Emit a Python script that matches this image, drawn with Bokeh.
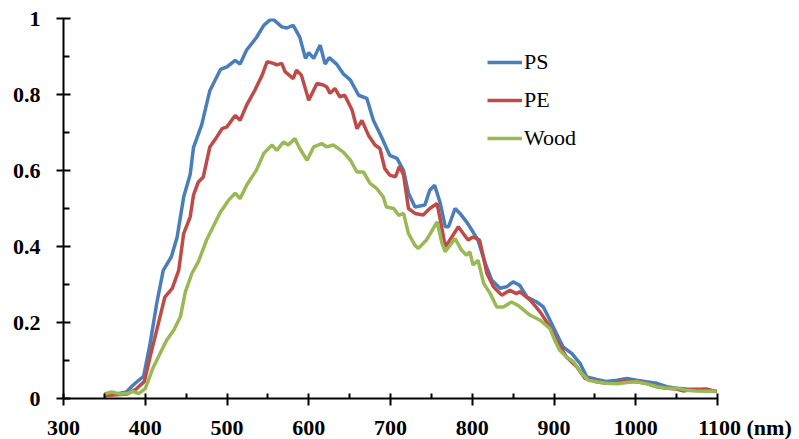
from bokeh.plotting import figure
from bokeh.models import FixedTicker, Legend, LegendItem
from bokeh.embed import file_html
from bokeh.resources import INLINE

ps_x = [350, 365, 377, 385, 392, 398, 406, 414, 422, 432, 439, 447, 455, 459, 469, 479, 492, 500, 510, 516,
        524, 536, 545, 553, 557, 567, 573, 581, 589, 596, 600, 606, 614, 620, 625, 634, 642, 651, 661, 671,
        679, 689, 699, 708, 716, 722, 730, 742, 748, 754, 761, 767, 771, 779, 785, 793, 801, 807, 816, 824,
        834, 842, 850, 858, 867, 879, 887, 893, 903, 911, 922, 932, 940, 952, 964, 977, 989, 1001, 1013, 1026,
        1038, 1050, 1062, 1074, 1087, 1099]
ps_y = [0.009, 0.012, 0.017, 0.035, 0.048, 0.058, 0.145, 0.25, 0.337, 0.373, 0.425, 0.53, 0.59, 0.66, 0.72, 0.81,
        0.866, 0.873, 0.89, 0.88, 0.917, 0.95, 0.982, 0.997, 0.997, 0.978, 0.975, 0.982, 0.951, 0.895, 0.91, 0.895,
        0.93, 0.88, 0.897, 0.88, 0.855, 0.838, 0.798, 0.79, 0.732, 0.688, 0.64, 0.632, 0.6, 0.54, 0.504, 0.509,
        0.548, 0.561, 0.513, 0.452, 0.452, 0.5, 0.487, 0.465, 0.438, 0.417, 0.355, 0.311, 0.29, 0.294, 0.307,
        0.298, 0.267, 0.254, 0.241, 0.215, 0.171, 0.136, 0.118, 0.092, 0.057, 0.05, 0.045, 0.048, 0.053, 0.048,
        0.044, 0.04, 0.031, 0.027, 0.025, 0.024, 0.022, 0.02]

pe_x = [350, 365, 378, 389, 399, 406, 416, 424, 433, 441, 447, 455, 459, 465, 471, 479, 485, 494, 500, 510,
        516, 524, 534, 543, 549, 557, 561, 567, 571, 581, 585, 591, 600, 610, 618, 622, 626, 632, 638, 644,
        653, 659, 665, 673, 681, 687, 693, 699, 706, 711, 716, 722, 730, 740, 748, 757, 761, 767, 775, 783,
        789, 795, 801, 809, 818, 826, 836, 846, 854, 858, 871, 883, 895, 903, 915, 928, 938, 952, 964, 977,
        989, 1001, 1013, 1026, 1038, 1050, 1058, 1070, 1086, 1099]
pe_y = [0.008, 0.01, 0.012, 0.025, 0.045, 0.11, 0.197, 0.267, 0.29, 0.338, 0.434, 0.478, 0.535, 0.57, 0.583,
        0.662, 0.68, 0.71, 0.715, 0.745, 0.732, 0.772, 0.811, 0.851, 0.886, 0.882, 0.878, 0.882, 0.86, 0.842,
        0.864, 0.851, 0.785, 0.829, 0.825, 0.82, 0.803, 0.816, 0.794, 0.798, 0.759, 0.71, 0.732, 0.693, 0.667,
        0.658, 0.605, 0.588, 0.583, 0.611, 0.588, 0.5, 0.487, 0.483, 0.5, 0.513, 0.469, 0.399, 0.425, 0.452,
        0.434, 0.417, 0.425, 0.417, 0.329, 0.294, 0.272, 0.285, 0.276, 0.281, 0.259, 0.228, 0.188, 0.153, 0.11,
        0.083, 0.053, 0.044, 0.04, 0.042, 0.047, 0.044, 0.04, 0.031, 0.027, 0.025, 0.02, 0.024, 0.025, 0.018]

wood_x = [350, 359, 369, 379, 385, 392, 400, 410, 418, 426, 435, 443, 449, 457, 465, 475, 483, 492, 502, 510,
          516, 524, 536, 545, 555, 561, 569, 575, 583, 589, 598, 606, 616, 622, 630, 642, 651, 659, 667, 675,
          683, 691, 695, 704, 710, 716, 722, 730, 734, 744, 757, 763, 767, 779, 787, 793, 797, 801, 807, 814,
          822, 830, 838, 848, 856, 871, 883, 895, 901, 907, 915, 924, 934, 942, 952, 964, 977, 989, 1001, 1013,
          1026, 1038, 1050, 1062, 1074, 1086, 1099]
wood_y = [0.012, 0.017, 0.012, 0.014, 0.019, 0.013, 0.026, 0.083, 0.118, 0.153, 0.18, 0.215, 0.28, 0.329, 0.36,
          0.417, 0.452, 0.491, 0.522, 0.54, 0.526, 0.561, 0.601, 0.645, 0.667, 0.653, 0.675, 0.667, 0.684, 0.658,
          0.627, 0.662, 0.671, 0.662, 0.667, 0.649, 0.627, 0.596, 0.596, 0.566, 0.553, 0.531, 0.504, 0.5, 0.482,
          0.487, 0.434, 0.403, 0.395, 0.417, 0.465, 0.408, 0.386, 0.421, 0.39, 0.377, 0.386, 0.351, 0.364, 0.303,
          0.276, 0.241, 0.241, 0.254, 0.245, 0.219, 0.206, 0.184, 0.153, 0.127, 0.11, 0.096, 0.066, 0.048, 0.044,
          0.04, 0.039, 0.042, 0.044, 0.039, 0.031, 0.027, 0.027, 0.022, 0.02, 0.019, 0.02]

series_names = ["PS", "PE", "Wood"]
series_colors = ["#4A7EBB", "#BE4B48", "#98B954"]

x_ticks = [300, 400, 500, 600, 700, 800, 900, 1000, 1100]
x_minor = [350, 450, 550, 650, 750, 850, 950, 1050]
y_ticks = [0, 0.2, 0.4, 0.6, 0.8, 1.0]
y_minor = [0.1, 0.3, 0.5, 0.7, 0.9]
y_labels = {0: "0", 0.2: "0.2", 0.4: "0.4", 0.6: "0.6", 0.8: "0.8", 1.0: "1"}
unit_label = "(nm)"
# the last x tick label carries the unit, padded with no-break spaces so "1100" stays centred on its tick
x_labels = {1100: "\u00a0" * 10 + "1100 " + unit_label}

FONT = "Liberation Serif, Times New Roman, serif"

p = figure(output_backend="svg", toolbar_location=None,
           x_range=(300, 1100), y_range=(0, 1),
           frame_width=654, frame_height=380,
           min_border_left=63, min_border_top=18, min_border_right=82, min_border_bottom=41)
p.outline_line_color = None
p.xgrid.visible = False
p.ygrid.visible = False
p.background_fill_color = "white"
p.border_fill_color = "white"

renderers = []
for xs, ys, c in zip([ps_x, pe_x, wood_x], [ps_y, pe_y, wood_y], series_colors):
    r = p.line(xs, ys, line_color=c, line_width=3.5)
    renderers.append(r)

for ax in (p.xaxis[0], p.yaxis[0]):
    ax.axis_line_width = 2
    ax.axis_line_color = "black"
    ax.major_tick_line_width = 2
    ax.minor_tick_line_width = 2
    ax.major_label_text_font = FONT
    ax.major_label_text_font_style = "bold"
    ax.major_label_text_font_size = "22px"
    ax.major_label_text_color = "black"

p.xaxis.ticker = FixedTicker(ticks=x_ticks, minor_ticks=x_minor)
p.yaxis.ticker = FixedTicker(ticks=y_ticks, minor_ticks=y_minor)
p.yaxis.major_label_overrides = y_labels
p.xaxis.major_label_overrides = x_labels
p.xaxis.major_tick_in = 5
p.xaxis.major_tick_out = 7
p.xaxis.minor_tick_in = 5
p.xaxis.minor_tick_out = 0
p.yaxis.major_tick_in = 7
p.yaxis.major_tick_out = 7
p.yaxis.minor_tick_in = 6
p.yaxis.minor_tick_out = 0
p.xaxis.major_label_standoff = 9
p.yaxis.major_label_standoff = 16

legend = Legend(items=[LegendItem(label=n, renderers=[r]) for n, r in zip(series_names, renderers)],
                location=(424, 241), orientation="vertical",
                glyph_width=35, glyph_height=38, label_height=38, label_standoff=2,
                spacing=0, padding=0, margin=0,
                background_fill_alpha=0, border_line_alpha=0,
                label_text_font=FONT, label_text_font_size="22px", label_text_color="black")
p.add_layout(legend)

open("out.html", "w").write(file_html(p, INLINE))
